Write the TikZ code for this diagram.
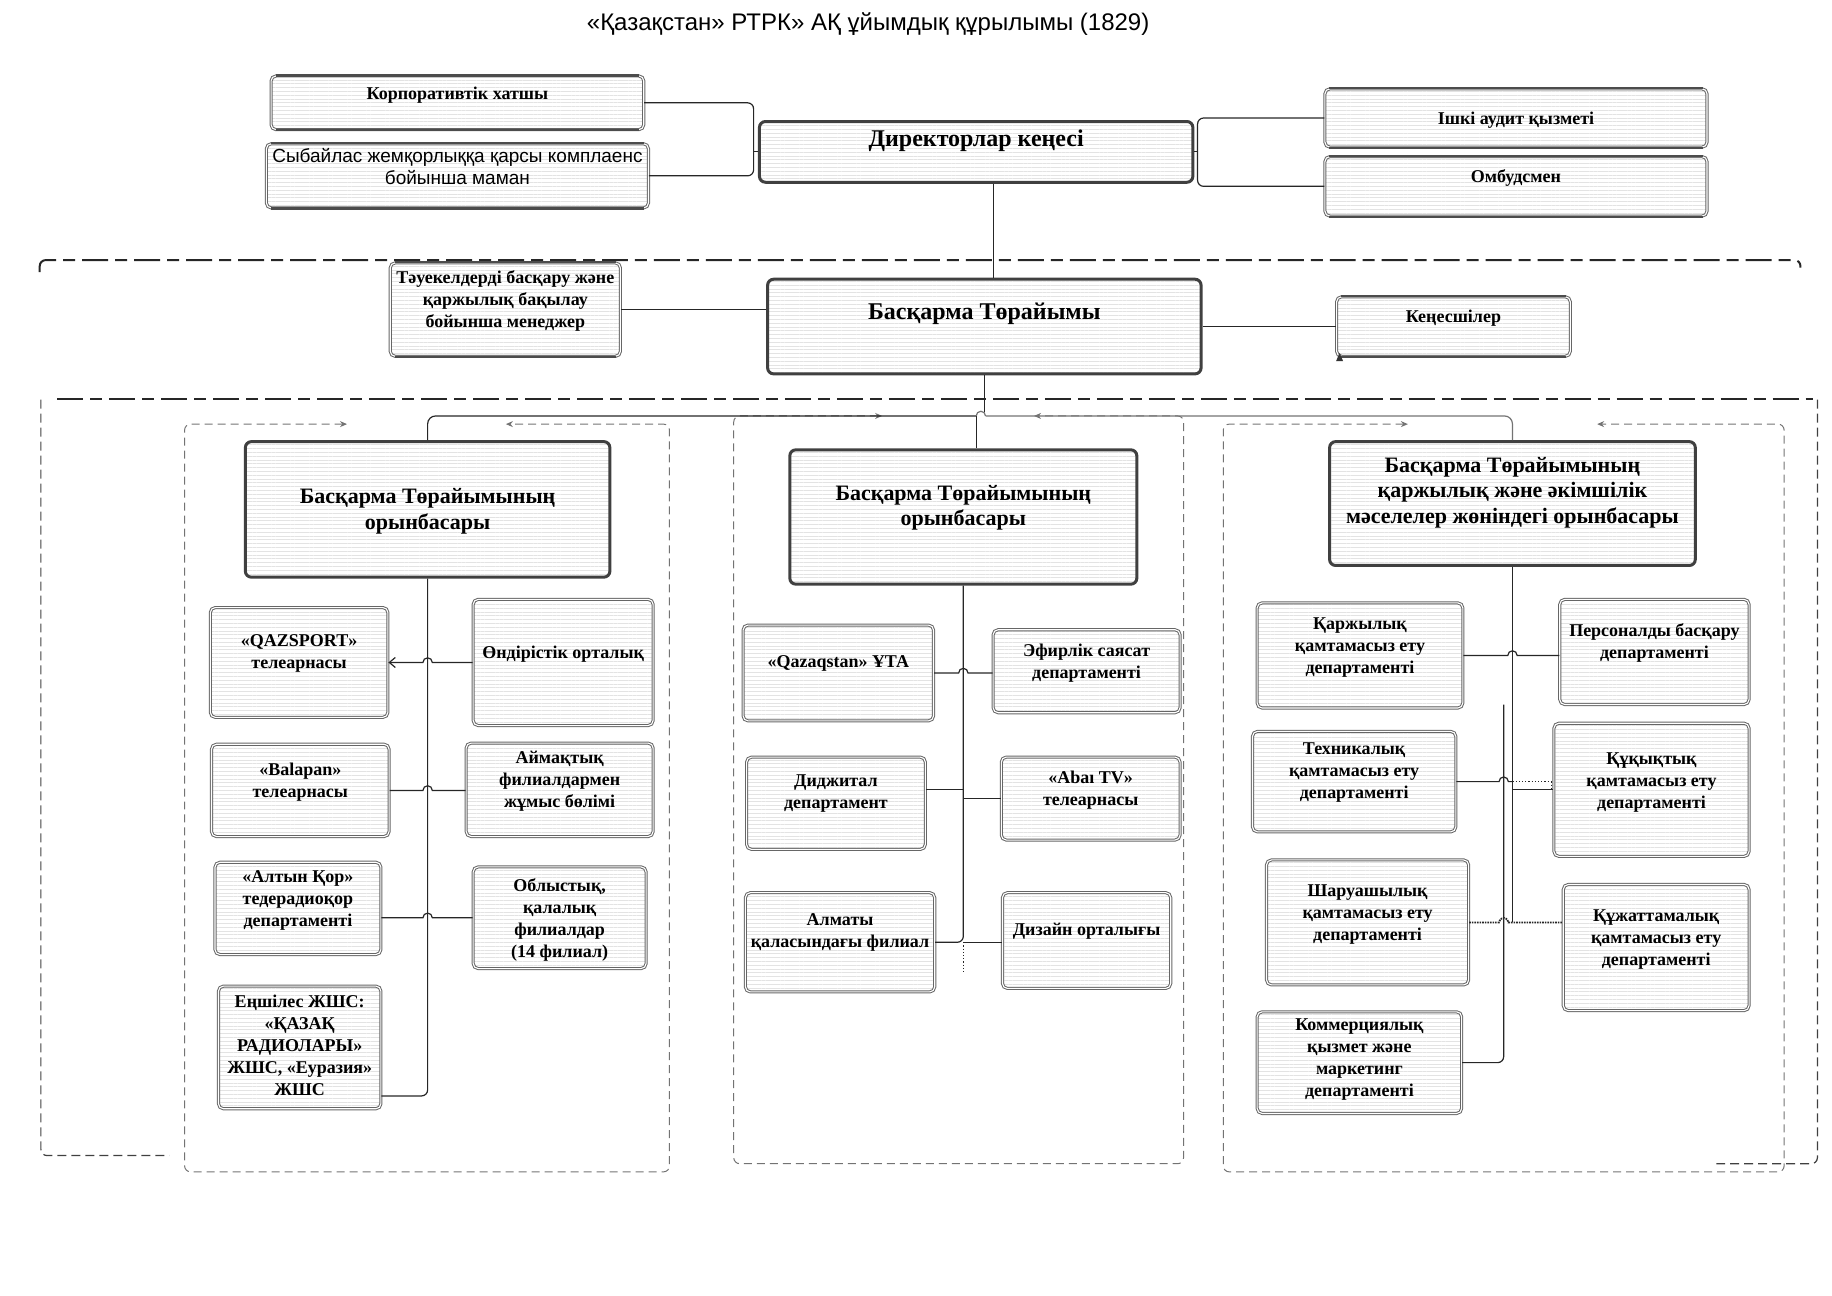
\documentclass[tikz,border=0pt]{standalone}
\usepackage{fontspec}
\setmainfont{Liberation Serif}
\newfontfamily\sansf{Liberation Sans}
\usetikzlibrary{arrows.meta,patterns.meta,calc,fit}

\newcommand\mkbox[9]{%
  \node[#1, fit={(#3,#4) (#5,#6)}] (#2) {};
  \node[#8] (#2-t) at ({(#3+#5)/2},#7) {#9};}
\newcommand\bars[1]{%
  \draw[line width=1.1pt, black!70] ([xshift=2.5pt]#1.north west) -- ([xshift=-2.5pt]#1.north east);
  \draw[line width=1.1pt, black!70] ([xshift=2.5pt]#1.south west) -- ([xshift=-2.5pt]#1.south east);}
\newcommand\bridgeconn[4][]{\draw[conn,#1] (#2) -- ($(#2 -| #3)+(-4,0)$) arc[start angle=180,end angle=360,radius=4] -- (#4 |- #2);}

\begin{document}
\begin{tikzpicture}[x=0.5844pt,y=-0.5844pt,
  conn/.style={draw=black!85, line width=0.6pt},
  sbox/.style={draw=black!60, line width=0.5pt, double=white, double distance=0.55pt,
    rounded corners=2.5pt, preaction={fill=white},
    pattern={Lines[angle=0,distance=1.9pt,line width=0.45pt]}, pattern color=black!11, inner sep=0pt},
  tbox/.style={draw=black!75, line width=1.5pt, rounded corners=3pt, preaction={fill=white},
    pattern={Lines[angle=0,distance=1.9pt,line width=0.45pt]}, pattern color=black!11, inner sep=0pt},
  txt/.style={font=\bfseries\fontsize{9}{11}\selectfont, align=center, inner sep=0pt, yshift=-1pt},
  stxt/.style={font=\sansf\fontsize{9.5}{11}\selectfont, align=center, inner sep=0pt, yshift=-1pt},
  btxt/.style={font=\bfseries\fontsize{12}{14}\selectfont, align=center, inner sep=0pt, yshift=-1pt},
  dtxtA/.style={font=\bfseries\fontsize{11}{13.4}\selectfont, align=center, inner sep=0pt, yshift=-1.2pt},
  dtxtB/.style={font=\bfseries\fontsize{11}{12.8}\selectfont, align=center, inner sep=0pt, yshift=-1pt},
  dtxtC/.style={font=\bfseries\fontsize{11}{12.7}\selectfont, align=center, inner sep=0pt, yshift=-1pt},
  ibox/.style={draw=black!55, line width=0.5pt, dash pattern=on 4pt off 2.5pt, rounded corners=3pt},
  dashdot/.style={draw=black!85, line width=1pt, dash pattern=on 13pt off 3.5pt on 6pt off 3.5pt, rounded corners=3pt},
  odash/.style={draw=black!75, line width=0.6pt, dash pattern=on 4.5pt off 2.5pt, rounded corners=3pt}
]
\useasboundingbox (0,0) rectangle (1568,1109);

% title
\node[font=\sansf\fontsize{12}{14}\selectfont, inner sep=0pt] (title) at (743,21) {«Қазақстан» РТРК» АҚ ұйымдық құрылымы (1829)};

% frames
\draw[dashdot] (34,233) -- (34,222.6) -- (1541,222.6) -- (1541,229);
\draw[dashdot] (49,341.5) -- (1552,341.5);
\draw[odash] (35,342) -- (35,989) -- (145,989);
\draw[odash] (1555.5,342) -- (1555.5,996) -- (1469,996);
\draw[ibox, {Stealth[length=3.5pt,width=3pt]}-{Stealth[length=3.5pt,width=3pt]}] (297,363) -- (158,363) -- (158,1003) -- (573,1003) -- (573,363) -- (433,363);
\draw[ibox, {Stealth[length=3.5pt,width=3pt]}-{Stealth[length=3.5pt,width=3pt]}] (755,356) -- (628,356) -- (628,996) -- (1013,996) -- (1013,356) -- (885,356);
\draw[ibox, {Stealth[length=3.5pt,width=3pt]}-{Stealth[length=3.5pt,width=3pt]}] (1205,363) -- (1047,363) -- (1047,1003) -- (1527,1003) -- (1527,363) -- (1367,363);

% top boxes
\mkbox{sbox}{korp}{232}{65}{551}{111}{80}{txt}{Корпоративтік хатшы}
\mkbox{sbox}{syb}{228}{123}{555}{178}{140.5}{stxt}{Сыбайлас жемқорлыққа қарсы комплаенс\\бойынша маман}
\mkbox{tbox}{dir}{650}{104}{1021}{156}{119}{btxt}{Директорлар кеңесі}
\mkbox{sbox}{ishki}{1134}{76}{1461}{126}{101}{txt}{Ішкі аудит қызметі}
\mkbox{sbox}{omb}{1134}{134}{1461}{185}{151}{txt}{Омбудсмен}
\mkbox{sbox}{tau}{334}{225}{531}{305}{255.5}{txt}{Тәуекелдерді басқару және\\қаржылық бақылау\\бойынша менеджер}
\mkbox{tbox}{chair}{657}{239}{1028}{320}{267}{btxt}{Басқарма Төрайымы}
\mkbox{sbox}{ken}{1144}{254}{1344}{305}{271}{txt}{Кеңесшілер}
\bars{korp}\bars{syb}\bars{ishki}\bars{omb}\bars{tau}\bars{ken}
\fill[black!80] (1143.6,309) -- (1149.5,309) -- (1146.5,302) -- cycle;

% left column
\mkbox{tbox}{dep1}{210}{378}{522}{494}{435.5}{dtxtA}{Басқарма Төрайымының\\орынбасары}
\mkbox{sbox}{qaz}{180}{520}{332}{614}{558}{txt}{«QAZSPORT»\\телеарнасы}
\mkbox{sbox}{ond}{405}{513}{559}{621}{558}{txt}{Өндірістік орталық}
\mkbox{sbox}{bal}{181}{637}{333}{716}{667.5}{txt}{«Balapan»\\телеарнасы}
\mkbox{sbox}{aim}{399}{636}{559}{716}{667}{txt}{Аймақтық\\филиалдармен\\жұмыс бөлімі}
\mkbox{sbox}{alt}{184}{738}{326}{817}{769}{txt}{«Алтын Қор»\\тедерадиоқор\\департаменті}
\mkbox{sbox}{obl}{405}{742}{553}{829}{786}{txt}{Облыстық,\\қалалық\\филиалдар\\(14 филиал)}
\mkbox{sbox}{ensh}{187}{844}{326}{949}{893}{txt}{Еңшілес ЖШС:\\«ҚАЗАҚ\\РАДИОЛАРЫ»\\ЖШС, «Еуразия»\\ЖШС}

% middle column
\mkbox{tbox}{dep2}{676}{385}{973}{500}{433}{dtxtB}{Басқарма Төрайымының\\орынбасары}
\mkbox{sbox}{qzq}{636}{535}{799}{617}{566}{txt}{«Qazaqstan» ҰТА}
\mkbox{sbox}{efir}{850}{539}{1010}{610}{565.5}{txt}{Эфирлік саясат\\департаменті}
\mkbox{sbox}{dig}{639}{648}{792}{727}{677.5}{txt}{Диджитал\\департамент}
\mkbox{sbox}{abai}{857}{648}{1010}{719}{674.5}{txt}{«Abaı TV»\\телеарнасы}
\mkbox{sbox}{alm}{638}{764}{800}{849}{796.5}{txt}{Алматы\\қаласындағы филиал}
\mkbox{sbox}{dz}{858}{764}{1002}{846}{795}{txt}{Дизайн орталығы}

% right column
\mkbox{tbox}{dep3}{1138}{378}{1451}{484}{420}{dtxtC}{Басқарма Төрайымының\\қаржылық және әкімшілік\\мәселелер жөніндегі орынбасары}
\mkbox{sbox}{karzh}{1076}{516}{1252}{606}{552.7}{txt}{Қаржылық\\қамтамасыз ету\\департаменті}
\mkbox{sbox}{pers}{1335}{513}{1497}{603}{549}{txt}{Персоналды басқару\\департаменті}
\mkbox{sbox}{tech}{1072}{626}{1246}{712}{659.7}{txt}{Техникалық\\қамтамасыз ету\\департаменті}
\mkbox{sbox}{kuk}{1330}{619}{1497}{733}{667.7}{txt}{Құқықтық\\қамтамасыз ету\\департаменті}
\mkbox{sbox}{shar}{1084}{736}{1257}{843}{781}{txt}{Шаруашылық\\қамтамасыз ету\\департаменті}
\mkbox{sbox}{kuzh}{1338}{757}{1497}{865}{802}{txt}{Құжаттамалық\\қамтамасыз ету\\департаменті}
\mkbox{sbox}{komm}{1076}{866}{1251}{953}{905}{txt}{Коммерциялық\\қызмет және\\маркетинг\\департаменті}

% top connectors
\coordinate (bl) at (645,130);
\coordinate (br) at (1025,130);
\coordinate (vx) at (850,0);
\draw[conn, rounded corners=3] (korp.east) -| (bl) |- (syb.east);
\draw[conn] (bl) -- (dir.west);
\draw[conn, rounded corners=3] (ishki.west) -| (br) |- (omb.west);
\draw[conn] (dir.east) -- (br);
\draw[conn] (dir.south -| vx) -- (chair.north -| vx);
\draw[conn] (tau.east) -- (chair.west |- tau.east);
\draw[conn] (chair.east) -- (ken.west);

% bus
\coordinate (jn) at (835.5,356);
\draw[conn, rounded corners=4] (dep1.north) |- (jn);
\draw[conn] (jn) -- (jn |- dep2.north);
\draw[conn] (chair.south) -- ($(chair.south |- jn)+(0,-3)$);
\draw[conn, draw=black!55] (jn) arc[start angle=180,end angle=360,radius=4];
\draw[conn, draw=black!55, rounded corners=4] ($(jn)+(8,0)$) -| (dep3.north);

% left column connectors
\coordinate (L1) at (dep1.south);
\draw[conn, rounded corners=3] (dep1.south) |- (ensh.east |- 0,938);
\bridgeconn[{Straight Barb[length=3pt,width=5pt]}-]{qaz.east}{L1}{ond.west}
\bridgeconn{bal.east}{L1}{aim.west}
\coordinate (a1) at (alt.east |- obl.west);
\bridgeconn{a1}{L1}{obl.west}

% middle column connectors
\coordinate (L2) at (dep2.south);
\coordinate (d1) at (dig.east |- 0,676);
\bridgeconn{qzq.east}{L2}{efir.west}
\draw[conn] (d1) -- (d1 -| L2);
\draw[conn] (abai.west -| L2) -- (abai.west);
\draw[conn, rounded corners=3] (dep2.south) |- (alm.east);
\draw[conn] (alm.east -| L2) -- (dz.west |- alm.east);
\draw[conn, densely dotted] (alm.east -| L2) -- ++(0,26);

% right column connectors
\coordinate (L3) at (dep3.south);
\coordinate (L4) at (1287,0);
\coordinate (l4top) at (1287,603);
\bridgeconn{karzh.east}{L3}{pers.west}
\bridgeconn{tech.east}{L4}{L3}
\draw[conn] (kuk.west -| L3) -- (kuk.west);
\draw[conn, densely dotted] (tech.east -| L3) -| ($(kuk.west)+(-2,0)$);
\bridgeconn[line width=0.9pt, dash pattern=on 0.8pt off 0.5pt]{shar.east}{L4}{kuzh.west}
\draw[conn] (dep3.south) -- (dep3.south |- shar.east);
\draw[conn, rounded corners=3] (l4top) |- (komm.east);
\end{tikzpicture}
\end{document}
